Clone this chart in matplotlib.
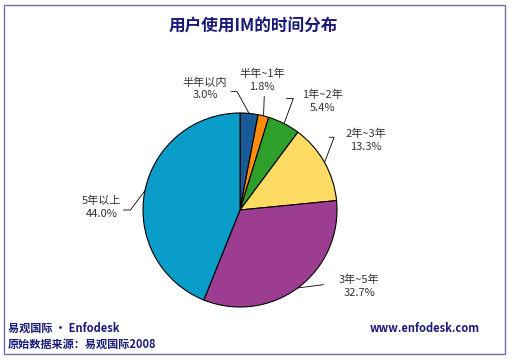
import numpy as np
import matplotlib as mpl
mpl.use('Agg')
import matplotlib.pyplot as plt
from matplotlib.patches import Rectangle

plt.rcParams['font.family'] = ['Noto Sans CJK SC', 'DejaVu Sans']

# data
labels = ["半年以内", "半年~1年", "1年~2年", "2年~3年", "3年~5年", "5年以上"]
shares = [3.0, 1.8, 5.4, 13.3, 32.7, 44.0]
colors = ["#1a5a96", "#ff8c0a", "#2ea02a", "#ffdb63", "#9c3d92", "#0a9dc9"]

# label placement (data units, pie radius = 1): text pos, elbow, line end
label_pos = [(-0.36, 1.25), (0.23, 1.34), (0.85, 1.12), (1.30, 0.72), (1.23, -0.79), (-1.43, 0.03)]
elbows = [(-0.03, 1.22), (0.25, 1.17), (0.55, 1.15), (0.97, 0.75), (0.86, -0.77), (-1.13, 0.0)]
ends = [(-0.09, 1.22), (0.25, 1.17), (0.48, 1.15), (0.92, 0.75), (0.86, -0.77), (-1.20, 0.0)]

W, H = 512, 360
fig = plt.figure(figsize=(W / 100, H / 100), dpi=100)

# frame
fig.patches.append(Rectangle((4 / W, 1 - 354 / H), 501 / W, 349 / H, transform=fig.transFigure,
                             fill=False, edgecolor="#7070a8", lw=1.0))

cx, cy, r = 240, 210, 97
ax = fig.add_axes([(cx - r) / W, 1 - (cy + r) / H, 2 * r / W, 2 * r / H])
ax.pie(shares, colors=colors, startangle=90, counterclock=False, radius=1,
       wedgeprops=dict(edgecolor="black", linewidth=0.8))
ax.set_xlim(-1, 1)
ax.set_ylim(-1, 1)
ax.set_aspect('equal')
ax.axis('off')

cum = np.cumsum([0] + shares)
for i, (lab, v) in enumerate(zip(labels, shares)):
    mid = np.deg2rad(90 - 3.6 * (cum[i] + v / 2))
    p0 = (np.cos(mid), np.sin(mid))
    xs = [p0[0], elbows[i][0], ends[i][0]]
    ys = [p0[1], elbows[i][1], ends[i][1]]
    ax.plot(xs, ys, color="black", lw=0.6, clip_on=False)
    ax.text(label_pos[i][0], label_pos[i][1], "%s\n%.1f%%" % (lab, v), ha="center", va="center",
            fontsize=8, color="#333333", linespacing=1.35, clip_on=False)

fig.text(253 / W, 1 - 27 / H, "用户使用IM的时间分布", ha="center", va="center",
         fontsize=12, color="#1a1a78", fontweight="bold")
fig.text(8 / W, 1 - 328 / H, "易观国际 · Enfodesk", ha="left", va="center",
         fontsize=8, color="#1a1a78", fontweight="bold")
fig.text(8 / W, 1 - 344 / H, "原始数据来源：易观国际2008", ha="left", va="center",
         fontsize=8, color="#1a1a78", fontweight="bold")
fig.text(480 / W, 1 - 328 / H, "www.enfodesk.com", ha="right", va="center",
         fontsize=8, color="#1a1a78", fontweight="bold")

fig.savefig("out.png", dpi=100)
